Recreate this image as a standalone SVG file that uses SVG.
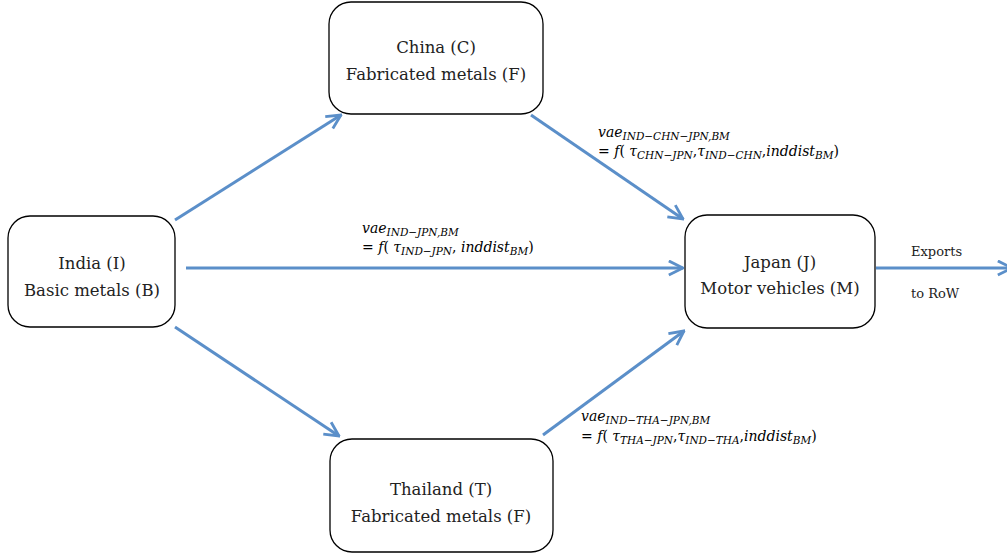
<svg xmlns="http://www.w3.org/2000/svg" width="1007" height="559" viewBox="0 0 1007 559">
<style>
.box{fill:#fff;stroke:#000;stroke-width:1.3}
.lbl{font-family:"DejaVu Serif","Liberation Serif",serif;font-size:16.5px;fill:#222;text-anchor:middle}
.conn{stroke:#5B8FC9;stroke-width:3;fill:none}
.m{font-family:"DejaVu Serif","Liberation Serif",serif;font-size:14px;fill:#000;font-style:italic}
.up{font-style:normal}
.sub{font-size:10.5px}
.ex{font-family:"DejaVu Serif","Liberation Serif",serif;font-size:13px;fill:#222}
</style>
<defs>
<marker id="ah" viewBox="0 0 12 12" refX="11" refY="6" markerWidth="17" markerHeight="17" markerUnits="userSpaceOnUse" orient="auto">
<path d="M1,1 L11,6 L1,11" fill="none" stroke="#5B8FC9" stroke-width="2"/>
</marker>
</defs>
<rect width="1007" height="559" fill="#fff"/>
<g id="connectors">
<line class="conn" x1="175" y1="220" x2="341" y2="115" marker-end="url(#ah)"/>
<line class="conn" x1="531" y1="115" x2="683" y2="219" marker-end="url(#ah)"/>
<line class="conn" x1="186" y1="268" x2="683" y2="268" marker-end="url(#ah)"/>
<line class="conn" x1="175" y1="327" x2="339" y2="436" marker-end="url(#ah)"/>
<line class="conn" x1="543" y1="435" x2="684" y2="331" marker-end="url(#ah)"/>
<line class="conn" x1="876" y1="268" x2="1012" y2="268" marker-end="url(#ah)"/>
</g>
<g id="china">
<rect class="box" x="329" y="2" width="214" height="112" rx="22"/>
<text class="lbl" x="436" y="53">China (C)</text>
<text class="lbl" x="436" y="80">Fabricated metals (F)</text>
</g>
<g id="india">
<rect class="box" x="8" y="216" width="167" height="111" rx="22"/>
<text class="lbl" x="92" y="269">India (I)</text>
<text class="lbl" x="92" y="296">Basic metals (B)</text>
</g>
<g id="japan">
<rect class="box" x="685" y="215" width="190" height="113" rx="22"/>
<text class="lbl" x="780" y="268">Japan (J)</text>
<text class="lbl" x="780" y="294">Motor vehicles (M)</text>
</g>
<g id="thailand">
<rect class="box" x="330" y="439" width="223" height="113" rx="22"/>
<text class="lbl" x="441" y="495">Thailand (T)</text>
<text class="lbl" x="441" y="522">Fabricated metals (F)</text>
</g>
<g id="labels">
<text class="m" x="598" y="137">vae<tspan class="sub" dy="3">IND−CHN−JPN,BM</tspan></text>
<text class="m" x="598" y="156"><tspan class="up">= </tspan>f<tspan class="up">( </tspan>τ<tspan class="sub" dy="3">CHN−JPN</tspan><tspan class="up" dy="-3">,</tspan>τ<tspan class="sub" dy="3">IND−CHN</tspan><tspan class="up" dy="-3">,</tspan>inddist<tspan class="sub" dy="3">BM</tspan><tspan class="up" dy="-3">)</tspan></text>
<text class="m" x="362" y="233">vae<tspan class="sub" dy="3">IND−JPN,BM</tspan></text>
<text class="m" x="362" y="252"><tspan class="up">= </tspan>f<tspan class="up">( </tspan>τ<tspan class="sub" dy="3">IND−JPN</tspan><tspan class="up" dy="-3">, </tspan>inddist<tspan class="sub" dy="3">BM</tspan><tspan class="up" dy="-3">)</tspan></text>
<text class="m" x="581" y="421">vae<tspan class="sub" dy="3">IND−THA−JPN,BM</tspan></text>
<text class="m" x="581" y="441"><tspan class="up">= </tspan>f<tspan class="up">( </tspan>τ<tspan class="sub" dy="3">THA−JPN</tspan><tspan class="up" dy="-3">,</tspan>τ<tspan class="sub" dy="3">IND−THA</tspan><tspan class="up" dy="-3">,</tspan>inddist<tspan class="sub" dy="3">BM</tspan><tspan class="up" dy="-3">)</tspan></text>
<text class="ex" x="911" y="256">Exports</text>
<text class="ex" x="911" y="298">to RoW</text>
</g>
</svg>
